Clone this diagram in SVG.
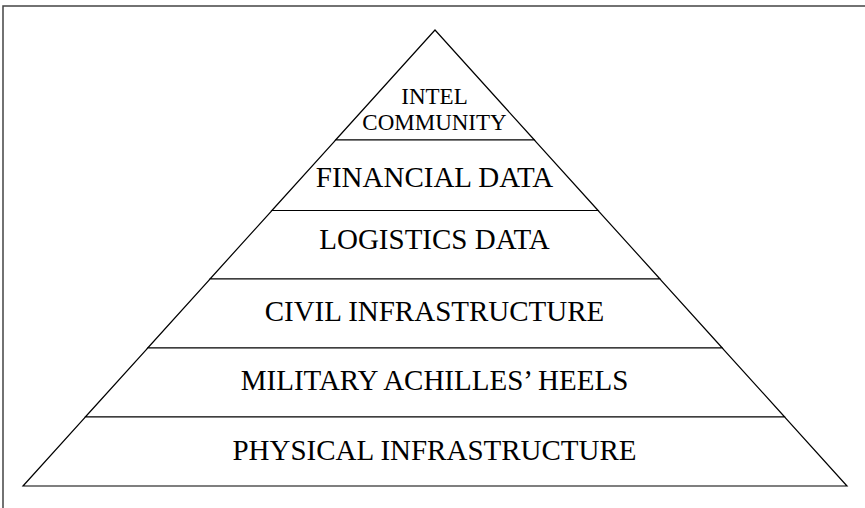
<svg xmlns="http://www.w3.org/2000/svg" width="865" height="508" viewBox="0 0 865 508">
<style>
.layer{fill:#fff;stroke:#000;stroke-width:1.2;stroke-linejoin:miter}
.lbl{font-family:"Liberation Serif","Times New Roman",serif;fill:#000;text-anchor:middle}
.big{font-size:29px}
.small{font-size:23px}
.frame{stroke:#444;stroke-width:1.5;fill:none}
</style>
<rect width="865" height="508" fill="#fff"/>
<path class="frame" d="M3,508 V6 H865"/>
<g id="intel-community">
<polygon class="layer" points="435,30 534.4,140 335.6,140"/>
<text class="lbl small" x="434.5" y="103.5">INTEL</text>
<text class="lbl small" x="434.5" y="130">COMMUNITY</text>
</g>
<g id="financial-data">
<polygon class="layer" points="335.6,140 534.4,140 598.1,210.5 271.9,210.5"/>
<text class="lbl big" x="434.5" y="187">FINANCIAL DATA</text>
</g>
<g id="logistics-data">
<polygon class="layer" points="271.9,210.5 598.1,210.5 660,279 210,279"/>
<text class="lbl big" x="434.5" y="249">LOGISTICS DATA</text>
</g>
<g id="civil-infrastructure">
<polygon class="layer" points="210,279 660,279 722.3,348 147.7,348"/>
<text class="lbl big" x="434.5" y="321">CIVIL INFRASTRUCTURE</text>
</g>
<g id="military-achilles-heels">
<polygon class="layer" points="147.7,348 722.3,348 784.7,417 85.3,417"/>
<text class="lbl big" x="434.5" y="390">MILITARY ACHILLES’ HEELS</text>
</g>
<g id="physical-infrastructure">
<polygon class="layer" points="85.3,417 784.7,417 847,486 23,486"/>
<text class="lbl big" x="434.5" y="460">PHYSICAL INFRASTRUCTURE</text>
</g>
<g id="connectors"></g>
</svg>
